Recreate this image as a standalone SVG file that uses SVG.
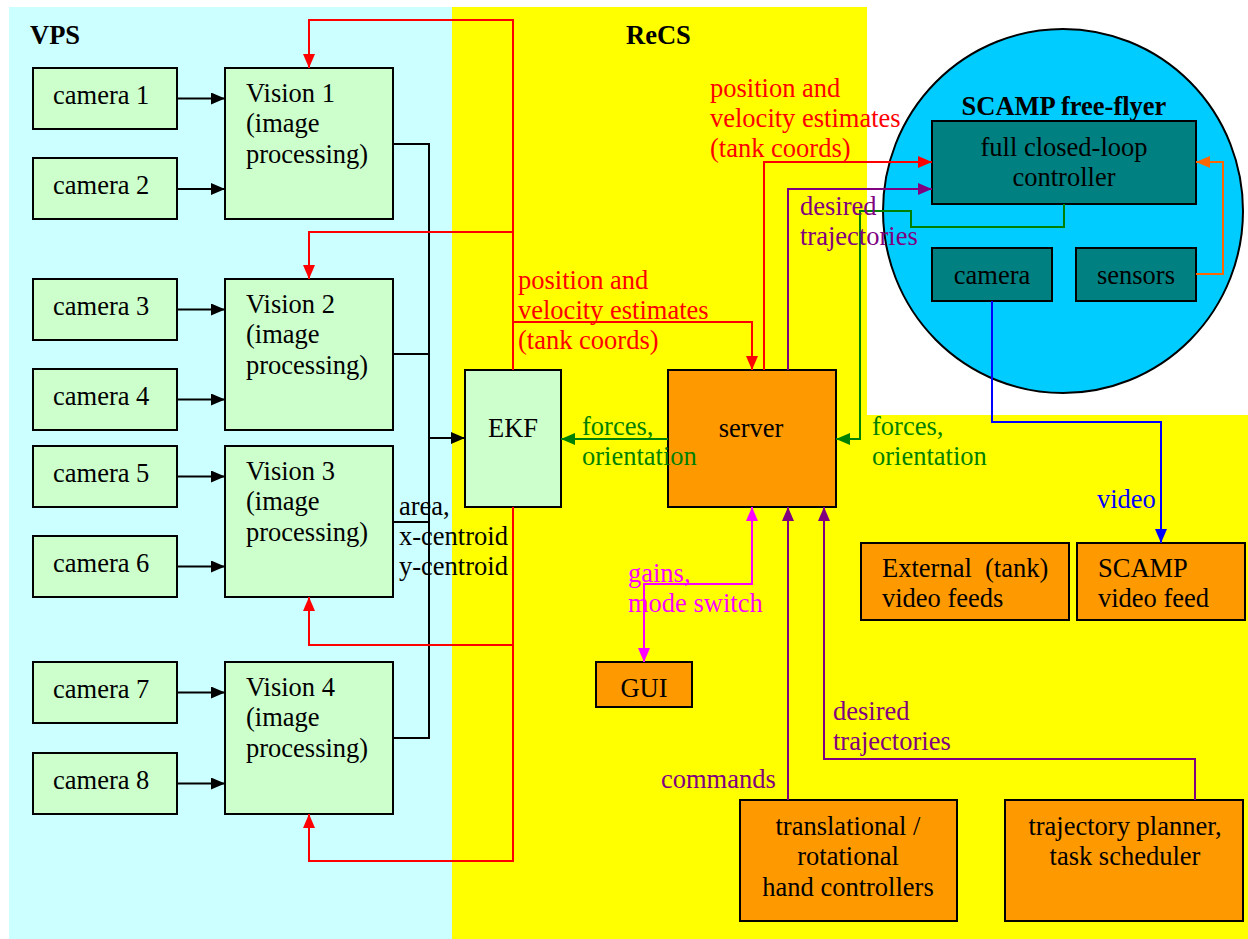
<svg xmlns="http://www.w3.org/2000/svg" width="1248" height="939" viewBox="0 0 1248 939">
<defs>
<style>
text{font-family:"Liberation Serif","Times New Roman",serif;font-size:26.5px;fill:#000}
.b{font-weight:bold}
.m{text-anchor:middle}
.gn rect{fill:#CCFFCC;stroke:#000;stroke-width:2}
.or rect{fill:#FF9900;stroke:#000;stroke-width:2}
.tl rect{fill:#008080;stroke:#000;stroke-width:2}
.ln{fill:none;stroke-width:2}
.k{stroke:#000}.r{stroke:#FF0000}.p{stroke:#800080}.g{stroke:#008000}.mg{stroke:#FF00FF}.bl{stroke:#0000FF}.o{stroke:#FF6600}
.tr{fill:#FF0000}.tp{fill:#800080}.tg{fill:#008000}.tm{fill:#FF00FF}.tb{fill:#0000FF}
</style>
<marker id="ak" markerUnits="userSpaceOnUse" markerWidth="14" markerHeight="12" refX="14" refY="6" orient="auto"><path d="M0,0L14,6L0,12z" fill="#000"/></marker>
<marker id="ar" markerUnits="userSpaceOnUse" markerWidth="14" markerHeight="12" refX="14" refY="6" orient="auto"><path d="M0,0L14,6L0,12z" fill="#FF0000"/></marker>
<marker id="ap" markerUnits="userSpaceOnUse" markerWidth="14" markerHeight="12" refX="14" refY="6" orient="auto"><path d="M0,0L14,6L0,12z" fill="#800080"/></marker>
<marker id="ag" markerUnits="userSpaceOnUse" markerWidth="14" markerHeight="12" refX="14" refY="6" orient="auto"><path d="M0,0L14,6L0,12z" fill="#008000"/></marker>
<marker id="am" markerUnits="userSpaceOnUse" markerWidth="14" markerHeight="12" refX="14" refY="6" orient="auto-start-reverse"><path d="M0,0L14,6L0,12z" fill="#FF00FF"/></marker>
<marker id="ab" markerUnits="userSpaceOnUse" markerWidth="14" markerHeight="12" refX="14" refY="6" orient="auto"><path d="M0,0L14,6L0,12z" fill="#0000FF"/></marker>
<marker id="ao" markerUnits="userSpaceOnUse" markerWidth="14" markerHeight="12" refX="14" refY="6" orient="auto"><path d="M0,0L14,6L0,12z" fill="#FF6600"/></marker>
</defs>
<rect width="1248" height="939" fill="#fff"/>
<g id="regions">
<rect x="9" y="7" width="443" height="932" fill="#CCFFFF"/>
<rect x="452" y="7" width="415" height="932" fill="#FFFF00"/>
<rect x="859" y="415" width="389" height="524" fill="#FFFF00"/>
<text x="30" y="44" class="b">VPS</text>
<text x="626" y="44" class="b">ReCS</text>
</g>
<g id="scamp">
<ellipse cx="1063" cy="211" rx="180" ry="182" fill="#00CCFF" stroke="#000" stroke-width="2"/>
<text x="1064" y="115" class="b m">SCAMP free-flyer</text>
</g>
<g id="cam1" class="gn"><rect x="33" y="68" width="144" height="61"/><text x="53" y="104">camera 1</text></g>
<g id="cam2" class="gn"><rect x="33" y="158" width="144" height="61"/><text x="53" y="194">camera 2</text></g>
<g id="cam3" class="gn"><rect x="33" y="279" width="144" height="61"/><text x="53" y="315">camera 3</text></g>
<g id="cam4" class="gn"><rect x="33" y="369" width="144" height="61"/><text x="53" y="405">camera 4</text></g>
<g id="cam5" class="gn"><rect x="33" y="446" width="144" height="61"/><text x="53" y="482">camera 5</text></g>
<g id="cam6" class="gn"><rect x="33" y="536" width="144" height="61"/><text x="53" y="572">camera 6</text></g>
<g id="cam7" class="gn"><rect x="33" y="662" width="144" height="61"/><text x="53" y="698">camera 7</text></g>
<g id="cam8" class="gn"><rect x="33" y="753" width="144" height="61"/><text x="53" y="789">camera 8</text></g>
<g id="vision1" class="gn"><rect x="225" y="68" width="168" height="151"/><text x="246" y="102">Vision 1</text><text x="246" y="132">(image</text><text x="246" y="163">processing)</text></g>
<g id="vision2" class="gn"><rect x="225" y="279" width="168" height="151"/><text x="246" y="313">Vision 2</text><text x="246" y="343">(image</text><text x="246" y="374">processing)</text></g>
<g id="vision3" class="gn"><rect x="225" y="446" width="168" height="151"/><text x="246" y="480">Vision 3</text><text x="246" y="510">(image</text><text x="246" y="541">processing)</text></g>
<g id="vision4" class="gn"><rect x="225" y="662" width="168" height="152"/><text x="246" y="696">Vision 4</text><text x="246" y="726">(image</text><text x="246" y="757">processing)</text></g>
<g id="ekf" class="gn"><rect x="465" y="370" width="96" height="137"/><text x="513" y="437" class="m">EKF</text></g>
<g id="server" class="or"><rect x="668" y="370" width="168" height="137"/><text x="751" y="437" class="m">server</text></g>
<g id="gui" class="or"><rect x="596" y="662" width="96" height="45"/><text x="644" y="697" class="m">GUI</text></g>
<g id="extvideo" class="or"><rect x="861" y="543" width="208" height="77"/><text x="882" y="577" xml:space="preserve">External  (tank)</text><text x="882" y="607">video feeds</text></g>
<g id="scampvideo" class="or"><rect x="1077" y="543" width="168" height="77"/><text x="1098" y="577">SCAMP</text><text x="1098" y="607">video feed</text></g>
<g id="handctrl" class="or"><rect x="740" y="800" width="217" height="121"/><text x="848" y="835" class="m">translational /</text><text x="848" y="865" class="m">rotational</text><text x="848" y="896" class="m">hand controllers</text></g>
<g id="planner" class="or"><rect x="1005" y="800" width="238" height="121"/><text x="1125" y="835" class="m">trajectory planner,</text><text x="1125" y="865" class="m">task scheduler</text></g>
<g id="controller" class="tl"><rect x="932" y="121" width="264" height="83"/><text x="1064" y="156" class="m">full closed-loop</text><text x="1064" y="186" class="m">controller</text></g>
<g id="scampcam" class="tl"><rect x="932" y="248" width="120" height="53"/><text x="992" y="284" class="m">camera</text></g>
<g id="sensors" class="tl"><rect x="1076" y="248" width="120" height="53"/><text x="1136" y="284" class="m">sensors</text></g>
<g id="connectors">
<path class="ln k" marker-end="url(#ak)" d="M177,98.5H225"/>
<path class="ln k" marker-end="url(#ak)" d="M177,189H225"/>
<path class="ln k" marker-end="url(#ak)" d="M177,309.5H225"/>
<path class="ln k" marker-end="url(#ak)" d="M177,399.5H225"/>
<path class="ln k" marker-end="url(#ak)" d="M177,476.5H225"/>
<path class="ln k" marker-end="url(#ak)" d="M177,566.5H225"/>
<path class="ln k" marker-end="url(#ak)" d="M177,692.5H225"/>
<path class="ln k" marker-end="url(#ak)" d="M177,783.5H225"/>
<path class="ln k" d="M393,144H429V738H393M393,354H429M393,522H429"/>
<path class="ln k" marker-end="url(#ak)" d="M429,438H465"/>
<path class="ln r" marker-end="url(#ar)" d="M513,370V20H309V68"/>
<path class="ln r" marker-end="url(#ar)" d="M513,232H309V279"/>
<path class="ln r" marker-end="url(#ar)" d="M513,322H752V370"/>
<path class="ln r" marker-end="url(#ar)" d="M513,507V861H309V814"/>
<path class="ln r" marker-end="url(#ar)" d="M513,645H309V597"/>
<path class="ln r" marker-end="url(#ar)" d="M764,370V162H932"/>
<path class="ln p" marker-end="url(#ap)" d="M788,370V189H932"/>
<path class="ln p" marker-end="url(#ap)" d="M788,800V507"/>
<path class="ln p" marker-end="url(#ap)" d="M1195,800V759H824V507"/>
<path class="ln g" marker-end="url(#ag)" d="M1064,204V227H911V211H860V439H836"/>
<path class="ln g" marker-end="url(#ag)" d="M668,439H561"/>
<path class="ln mg" marker-start="url(#am)" marker-end="url(#am)" d="M644,662V584H752V507"/>
<path class="ln bl" marker-end="url(#ab)" d="M992,301V422H1161V543"/>
<path class="ln o" marker-end="url(#ao)" d="M1196,274H1223V162H1196"/>
</g>
<g id="labels">
<text x="399" y="515">area,</text>
<text x="399" y="545">x-centroid</text>
<text x="399" y="575">y-centroid</text>
<text x="518" y="289" class="tr">position and</text>
<text x="518" y="319" class="tr">velocity estimates</text>
<text x="518" y="349" class="tr">(tank coords)</text>
<text x="710" y="97" class="tr">position and</text>
<text x="710" y="127" class="tr">velocity estimates</text>
<text x="710" y="157" class="tr">(tank coords)</text>
<text x="800" y="215" class="tp">desired</text>
<text x="800" y="245" class="tp">trajectories</text>
<text x="582" y="435" class="tg">forces,</text>
<text x="582" y="465" class="tg">orientation</text>
<text x="872" y="435" class="tg">forces,</text>
<text x="872" y="465" class="tg">orientation</text>
<text x="1097" y="508" class="tb">video</text>
<text x="628" y="582" class="tm">gains,</text>
<text x="628" y="612" class="tm">mode switch</text>
<text x="661" y="788" class="tp">commands</text>
<text x="833" y="720" class="tp">desired</text>
<text x="833" y="750" class="tp">trajectories</text>
</g>
</svg>
